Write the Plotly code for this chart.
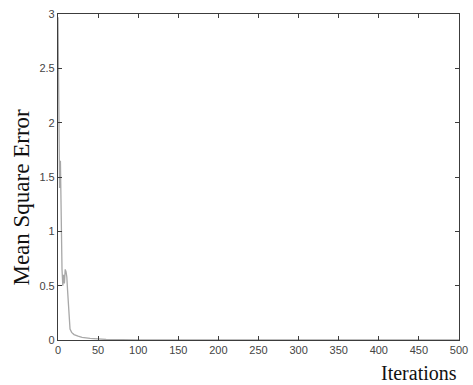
import plotly.graph_objects as go

iterations = [0, 1, 2, 3, 4, 5, 6, 7, 8, 9, 10, 11, 12, 13, 14, 15, 17, 20, 25, 30, 40, 50, 60, 100, 200, 500]
mse = [2.97, 2.15, 1.40, 1.65, 0.95, 0.65, 0.50, 0.60, 0.52, 0.65, 0.63, 0.58, 0.45, 0.30, 0.18, 0.10, 0.07, 0.05, 0.035, 0.025, 0.015, 0.01, 0.005, 0.002, 0.001, 0.001]

x_ticks = [0, 50, 100, 150, 200, 250, 300, 350, 400, 450, 500]
y_ticks = [0, 0.5, 1, 1.5, 2, 2.5, 3]
y_tick_text = ["0", "0.5", "1", "1.5", "2", "2.5", "3"]

fig = go.Figure()
fig.add_trace(go.Scatter(x=iterations, y=mse, mode="lines",
                         line=dict(color="#a8a8a8", width=1.3), showlegend=False))

axis_common = dict(showgrid=False, zeroline=False, showline=True, linecolor="#3c3c3c",
                   linewidth=1.2, mirror="ticks", ticks="inside", ticklen=4,
                   tickcolor="#3c3c3c", tickwidth=1, automargin=False,
                   tickfont=dict(family="Liberation Sans, Arial", size=11, color="#444444"))

fig.update_xaxes(range=[0, 500], tickvals=x_ticks, **axis_common)
fig.update_yaxes(range=[0, 3], tickvals=y_ticks, ticktext=y_tick_text, **axis_common)

fig.add_annotation(text="Iterations", xref="paper", yref="paper", x=1.0, y=0,
                   xanchor="right", yanchor="middle", yshift=-33, showarrow=False,
                   font=dict(family="Liberation Serif, Times New Roman", size=20, color="#111111"))
fig.add_annotation(text="Mean Square Error", xref="paper", yref="paper", x=0, y=0.437,
                   xanchor="center", yanchor="middle", xshift=-36, textangle=-90, showarrow=False,
                   font=dict(family="Liberation Serif, Times New Roman", size=23, color="#111111"))

fig.update_layout(width=473, height=385, margin=dict(l=58, r=14, t=14, b=45),
                  plot_bgcolor="white", paper_bgcolor="white")

fig.write_html("out.html", config={"displayModeBar": False},
               post_script="document.body.style.margin='0';document.body.style.overflow='hidden';")
